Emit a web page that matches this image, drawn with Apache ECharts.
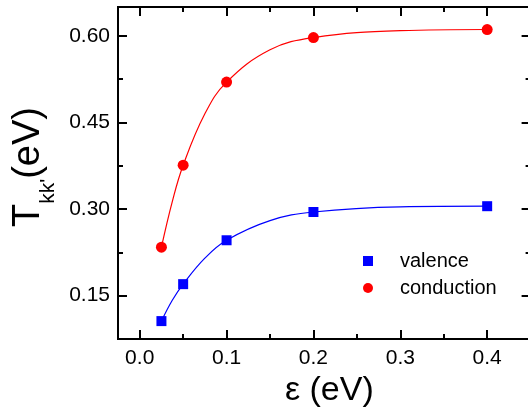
<!DOCTYPE html>
<html>
<head>
<meta charset="utf-8">
<script src="https://cdn.jsdelivr.net/npm/echarts@6/dist/echarts.min.js"></script>
<style>html,body{margin:0;padding:0;background:#fff}#c{width:528px;height:409px}</style>
</head>
<body>
<div id="c"></div>
<script>
// Measured data (markers)
const epsilon = [0.025, 0.05, 0.1, 0.2, 0.4];
const valence = [0.106, 0.170, 0.246, 0.295, 0.305];
const conduction = [0.234, 0.376, 0.520, 0.597, 0.611];
// Fitted curves
const fitX = [0.025, 0.0375, 0.05, 0.075, 0.1, 0.15, 0.2, 0.3, 0.4];
const valenceFit = [0.106, 0.142, 0.170, 0.215, 0.246, 0.280, 0.295, 0.304, 0.305];
const conductionFit = [0.234, 0.313, 0.376, 0.465, 0.520, 0.576, 0.597, 0.609, 0.611];
// Ticks
const xMajor = [0, 0.1, 0.2, 0.3, 0.4];
const xMinor = [0.05, 0.15, 0.25, 0.35];
const yMajor = [0.15, 0.30, 0.45, 0.60];
const yMinor = [0.075, 0.225, 0.375, 0.525];

const FONT = 'Liberation Sans, Arial, sans-serif';
const pairs = (xs, ys) => xs.map((x, i) => [x, ys[i]]);
const axisLine = {show: true, onZero: false, lineStyle: {color: '#000', width: 2}};

function xAx(pos, ticks, len, labels) {
  return {
    type: 'value', position: pos, min: -0.025, max: 0.45,
    axisLine: axisLine,
    axisTick: {show: true, inside: true, length: len, customValues: ticks, lineStyle: {color: '#000', width: 2}},
    axisLabel: labels ? {show: true, customValues: ticks, formatter: v => v.toFixed(1), color: '#000', fontSize: 21, fontFamily: FONT, margin: 9} : {show: false},
    splitLine: {show: false}
  };
}
function yAx(pos, ticks, len, labels) {
  return {
    type: 'value', position: pos, min: 0.075, max: 0.65,
    axisLine: axisLine,
    axisTick: {show: true, inside: true, length: len, customValues: ticks, lineStyle: {color: '#000', width: 2}},
    axisLabel: labels ? {show: true, customValues: ticks, formatter: v => v.toFixed(2), color: '#000', fontSize: 21, fontFamily: FONT, margin: 8} : {show: false},
    splitLine: {show: false}
  };
}

const xAxes = [xAx('bottom', xMajor, 9, true), xAx('bottom', xMinor, 5, false), xAx('top', xMajor, 9, false), xAx('top', xMinor, 5, false)];
xAxes[0].name = 'ε (eV)';
xAxes[0].nameLocation = 'middle';
xAxes[0].nameGap = 33;
xAxes[0].nameTextStyle = {fontSize: 34, fontFamily: FONT, color: '#000', padding: [0, 0, 0, 10]};

const yAxes = [yAx('left', yMajor, 9, true), yAx('left', yMinor, 5, false), yAx('right', yMajor, 9, false), yAx('right', yMinor, 5, false)];
yAxes[0].name = "{a|T}{s|kk'}{a|(eV)}";
yAxes[0].nameLocation = 'middle';
yAxes[0].nameGap = 54;
yAxes[0].nameTextStyle = {
  color: '#000', fontFamily: FONT, padding: [0, 0, 0, 12],
  rich: {
    a: {fontSize: 38, fontFamily: FONT, color: '#000', lineHeight: 42, verticalAlign: 'top'},
    s: {fontSize: 21, fontFamily: FONT, color: '#000', lineHeight: 21, verticalAlign: 'top', padding: [28, 0, 0, 0]}
  }
};

const chart = echarts.init(document.getElementById('c'), null, {renderer: 'canvas'});
chart.setOption({
  animation: false,
  backgroundColor: '#fff',
  grid: {left: 118, width: 412.6, top: 7, height: 332, containLabel: false, outerBoundsMode: 'none'},
  xAxis: xAxes,
  yAxis: yAxes,
  legend: {
    data: ['valence', 'conduction'],
    orient: 'vertical', left: 363, top: 251, padding: 0, itemGap: 7,
    itemWidth: 10, itemHeight: 10,
    itemStyle: {opacity: 1},
    textStyle: {fontSize: 20, fontFamily: FONT, color: '#000', lineHeight: 20, padding: [0, 0, 0, 22]}
  },
  series: [
    {name: 'valence fit', type: 'line', data: pairs(fitX, valenceFit), smooth: 0.4, showSymbol: false, symbol: 'none', lineStyle: {color: '#0000ff', width: 1.2}, z: 2},
    {name: 'conduction fit', type: 'line', data: pairs(fitX, conductionFit), smooth: 0.4, showSymbol: false, symbol: 'none', lineStyle: {color: '#ff0000', width: 1.2}, z: 2},
    {name: 'valence', type: 'scatter', data: pairs(epsilon, valence), symbol: 'rect', symbolSize: 10, itemStyle: {color: '#0000ff', opacity: 1}, z: 3},
    {name: 'conduction', type: 'scatter', data: pairs(epsilon, conduction), symbol: 'circle', symbolSize: 11, itemStyle: {color: '#ff0000', opacity: 1}, z: 3}
  ]
});
</script>
</body>
</html>
